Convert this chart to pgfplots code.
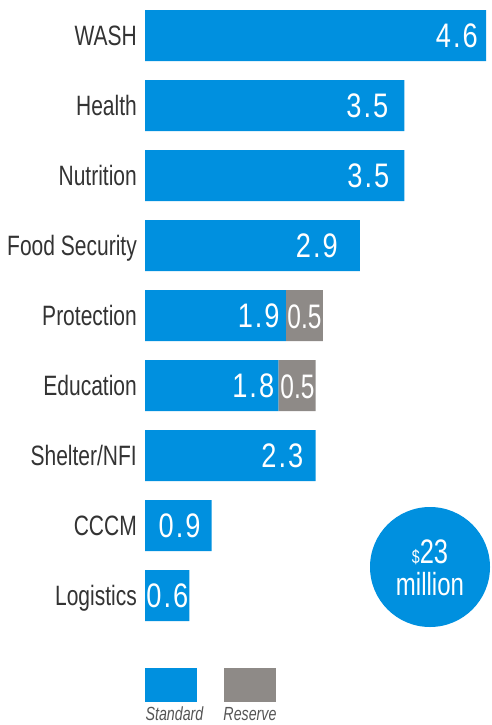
\documentclass[border=0pt]{standalone}
\usepackage{pgfplots}
\pgfplotsset{compat=1.18}
\usepackage{pgfplotstable}
\usepackage{fontspec}
\setmainfont{Liberation Sans}[FakeStretch=0.75]
\newfontfamily\valfont{Liberation Sans}[FakeStretch=0.8, LetterSpace=6]
\newfontfamily\tightfont{Liberation Sans}[FakeStretch=0.72]
\definecolor{stdblue}{HTML}{0090DF}
\definecolor{resgray}{HTML}{8E8A87}
\definecolor{labtxt}{HTML}{333333}
\definecolor{legtxt}{HTML}{555555}

\pgfplotstableread{
idx std res lab sh
0 4.6 0 4.6 8
1 3.5 0 3.5 16
2 3.5 0 3.5 15
3 2.9 0 2.9 22
4 1.9 0.5 1.9 6
5 1.8 0.5 1.8 4
6 2.3 0 2.3 12
7 0.9 0 0.9 11
8 0.6 0 0.6 1
}\datatable

\begin{document}
\begin{tikzpicture}
\path[use as bounding box] (0,0) rectangle (491pt,-725pt);
\begin{axis}[
  at={(145pt,-0.5pt)}, anchor=north west,
  width=341pt, height=630pt, scale only axis,
  xbar stacked, bar width=51pt,
  xmin=0, xmax=4.6,
  ymin=-0.5, ymax=8.5, y dir=reverse,
  ytick={0,...,8},
  yticklabels={WASH,Health,Nutrition,Food Security,Protection,Education,Shelter/NFI,CCCM,Logistics},
  yticklabel style={font=\fontsize{28pt}{30pt}\selectfont, text=labtxt, anchor=base east, inner sep=0pt, xshift=-8pt, yshift=-10pt},
  xtick=\empty,
  axis line style={draw=none},
  major tick length=0pt,
  clip=false,
]
\addplot[fill=stdblue, draw=none,
  visualization depends on={\thisrow{std}*37.065-\thisrow{sh} \as \lblshift},
  nodes near coords={\pgfplotspointmeta},
  point meta=explicit symbolic,
  nodes near coords style={anchor=base east, text=white, inner sep=0pt, xshift=\lblshift pt, yshift=-12pt, font=\valfont\fontsize{34pt}{35pt}\selectfont},
  ] table[x=std, y=idx, meta=lab] {\datatable};
\addplot[fill=resgray, draw=none] table[x=res, y=idx] {\datatable};
\end{axis}
\fill[stdblue] (430pt,-567pt) circle (60pt);
\node[anchor=base, text=white, inner sep=0pt] at (430pt,-563pt) {\fontsize{19pt}{19pt}\selectfont\$\fontsize{34pt}{34pt}\selectfont 23};
\node[anchor=base, text=white, inner sep=0pt] at (430pt,-595pt) {\fontsize{32pt}{32pt}\selectfont million};
\node[anchor=base, text=white, inner sep=0pt, font=\tightfont\fontsize{34pt}{35pt}\selectfont] at (304.5pt,-328pt) {0.5};
\node[anchor=base, text=white, inner sep=0pt, font=\tightfont\fontsize{34pt}{35pt}\selectfont] at (297.5pt,-398pt) {0.5};
\fill[stdblue] (145pt,-668pt) rectangle (197pt,-702pt);
\fill[resgray] (224pt,-668pt) rectangle (276pt,-702pt);
\node[anchor=base, text=legtxt, inner sep=0pt, font=\itshape\fontsize{19pt}{19pt}\selectfont] at (174.5pt,-720pt) {Standard};
\node[anchor=base, text=legtxt, inner sep=0pt, font=\itshape\fontsize{19pt}{19pt}\selectfont] at (250pt,-720pt) {Reserve};
\end{tikzpicture}
\end{document}
